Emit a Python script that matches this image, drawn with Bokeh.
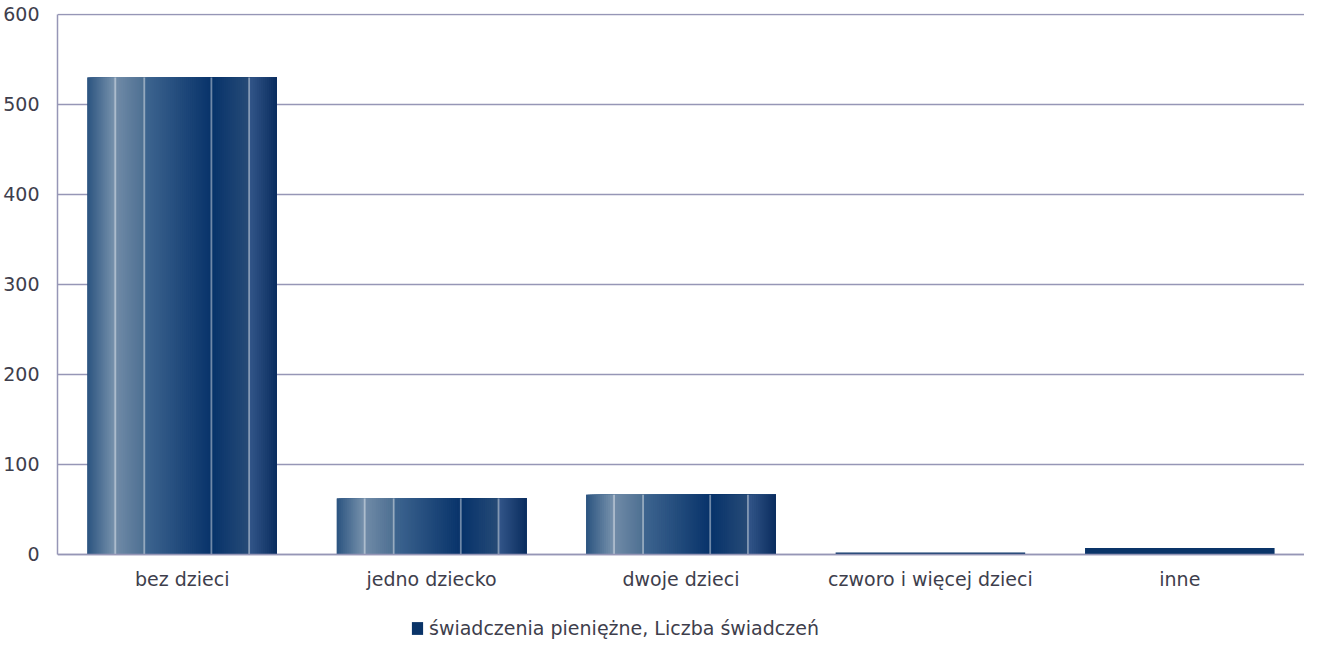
from bokeh.plotting import figure
from bokeh.models import (ColumnDataSource, FactorRange, Range1d, FixedTicker,
                          Legend, LegendItem, CDSView, BooleanFilter)
from bokeh.transform import dodge
from bokeh.embed import file_html
from bokeh.resources import INLINE

# ---- data ----
categories = ["bez dzieci", "jedno dziecko", "dwoje dzieci", "czworo i więcej dzieci", "inne"]
values = [530, 62, 66, 2, 7]
y_ticks = [0, 100, 200, 300, 400, 500, 600]
series_name = "świadczenia pieniężne, Liczba świadczeń"

# ---- styling ----
FONT = "DejaVu Sans"
FS = "19px"
TEXT_COLOR = "#3e3e4c"
GRID_COLOR = "#9696b6"
BAR_W = 0.76
SOLID = "#0a3468"
stops = [(0.0, "#2b5480"), (0.147, "#7a94ae"), (0.147, "#718ca8"), (0.30, "#4d6f92"),
         (0.30, "#3f6690"), (0.654, "#08336a"), (0.654, "#06326a"), (0.853, "#274b77"),
         (0.853, "#34578a"), (1.0, "#0a2c5e")]
line_fracs = [0.147, 0.30, 0.654, 0.853]


def hex2rgb(h):
    h = h.lstrip("#")
    return tuple(int(h[i:i + 2], 16) for i in (0, 2, 4))


def color_at(f):
    for (a, ca), (b, cb) in zip(stops[:-1], stops[1:]):
        if b > a and a <= f <= b:
            t = (f - a) / (b - a)
            r1, g1, b1 = hex2rgb(ca)
            r2, g2, b2 = hex2rgb(cb)
            return "#%02x%02x%02x" % (round(r1 + (r2 - r1) * t), round(g1 + (g2 - g1) * t),
                                      round(b1 + (b2 - b1) * t))
    return stops[-1][1]


src = ColumnDataSource(data=dict(cat=categories, value=values))
view = CDSView(filter=BooleanFilter([v >= 20 for v in values]))

# y range extends below 0 to leave room for the category labels and legend
p = figure(x_range=FactorRange(*categories), y_range=Range1d(-97, 601),
           width=1304, height=641, output_backend="svg", toolbar_location=None,
           min_border_left=55, min_border_right=0, min_border_top=13, min_border_bottom=0)
p.outline_line_color = None
p.background_fill_color = "white"
p.border_fill_color = "white"

# solid base bars (all)
solid_r = p.vbar(x="cat", top="value", width=BAR_W, source=src,
                 fill_color=SOLID, line_color=None)

# gradient slices for the larger bars
N = 96
for i in range(N):
    left = -BAR_W / 2 + i * BAR_W / N
    offset = (left + BAR_W / 2) / 2
    width = BAR_W / 2 - left
    p.vbar(x=dodge("cat", offset, range=p.x_range), top="value", width=width,
           source=src, view=view, fill_color=color_at((i + 0.5) / N), line_color=None)

# light vertical separators
for f in line_fracs:
    off = -BAR_W / 2 + f * BAR_W
    p.vbar(x=dodge("cat", off, range=p.x_range), top="value", width=1.8 / 250,
           source=src, view=view, fill_color="white", fill_alpha=0.42, line_color=None)

# axes
p.yaxis.ticker = FixedTicker(ticks=y_ticks)
p.yaxis.bounds = (0, 600)
p.yaxis.axis_line_color = GRID_COLOR
p.yaxis.axis_line_width = 1.5
p.yaxis.major_tick_line_color = None
p.yaxis.minor_tick_line_color = None
p.yaxis.major_label_standoff = 12
p.yaxis.major_label_text_font = FONT
p.yaxis.major_label_text_font_size = FS
p.yaxis.major_label_text_color = TEXT_COLOR

p.xaxis.fixed_location = 0
p.xaxis.axis_line_color = GRID_COLOR
p.xaxis.axis_line_width = 1.5
p.xaxis.major_tick_line_color = None
p.xaxis.minor_tick_line_color = None
p.xaxis.major_label_standoff = 8
p.xaxis.major_label_text_font = FONT
p.xaxis.major_label_text_font_size = FS
p.xaxis.major_label_text_color = TEXT_COLOR

p.xgrid.grid_line_color = None
p.ygrid.ticker = FixedTicker(ticks=y_ticks)
p.ygrid.grid_line_color = GRID_COLOR
p.ygrid.grid_line_width = 1.5

legend = Legend(items=[LegendItem(label=series_name, renderers=[solid_r])],
                orientation="horizontal", location=(353, 2),
                padding=0, margin=0, spacing=0, border_line_color=None,
                background_fill_alpha=0, glyph_width=14, glyph_height=16,
                label_standoff=5, label_text_font=FONT,
                label_text_font_size=FS, label_text_color=TEXT_COLOR)
p.add_layout(legend, "center")

open("out.html", "w").write(file_html(p, INLINE))
